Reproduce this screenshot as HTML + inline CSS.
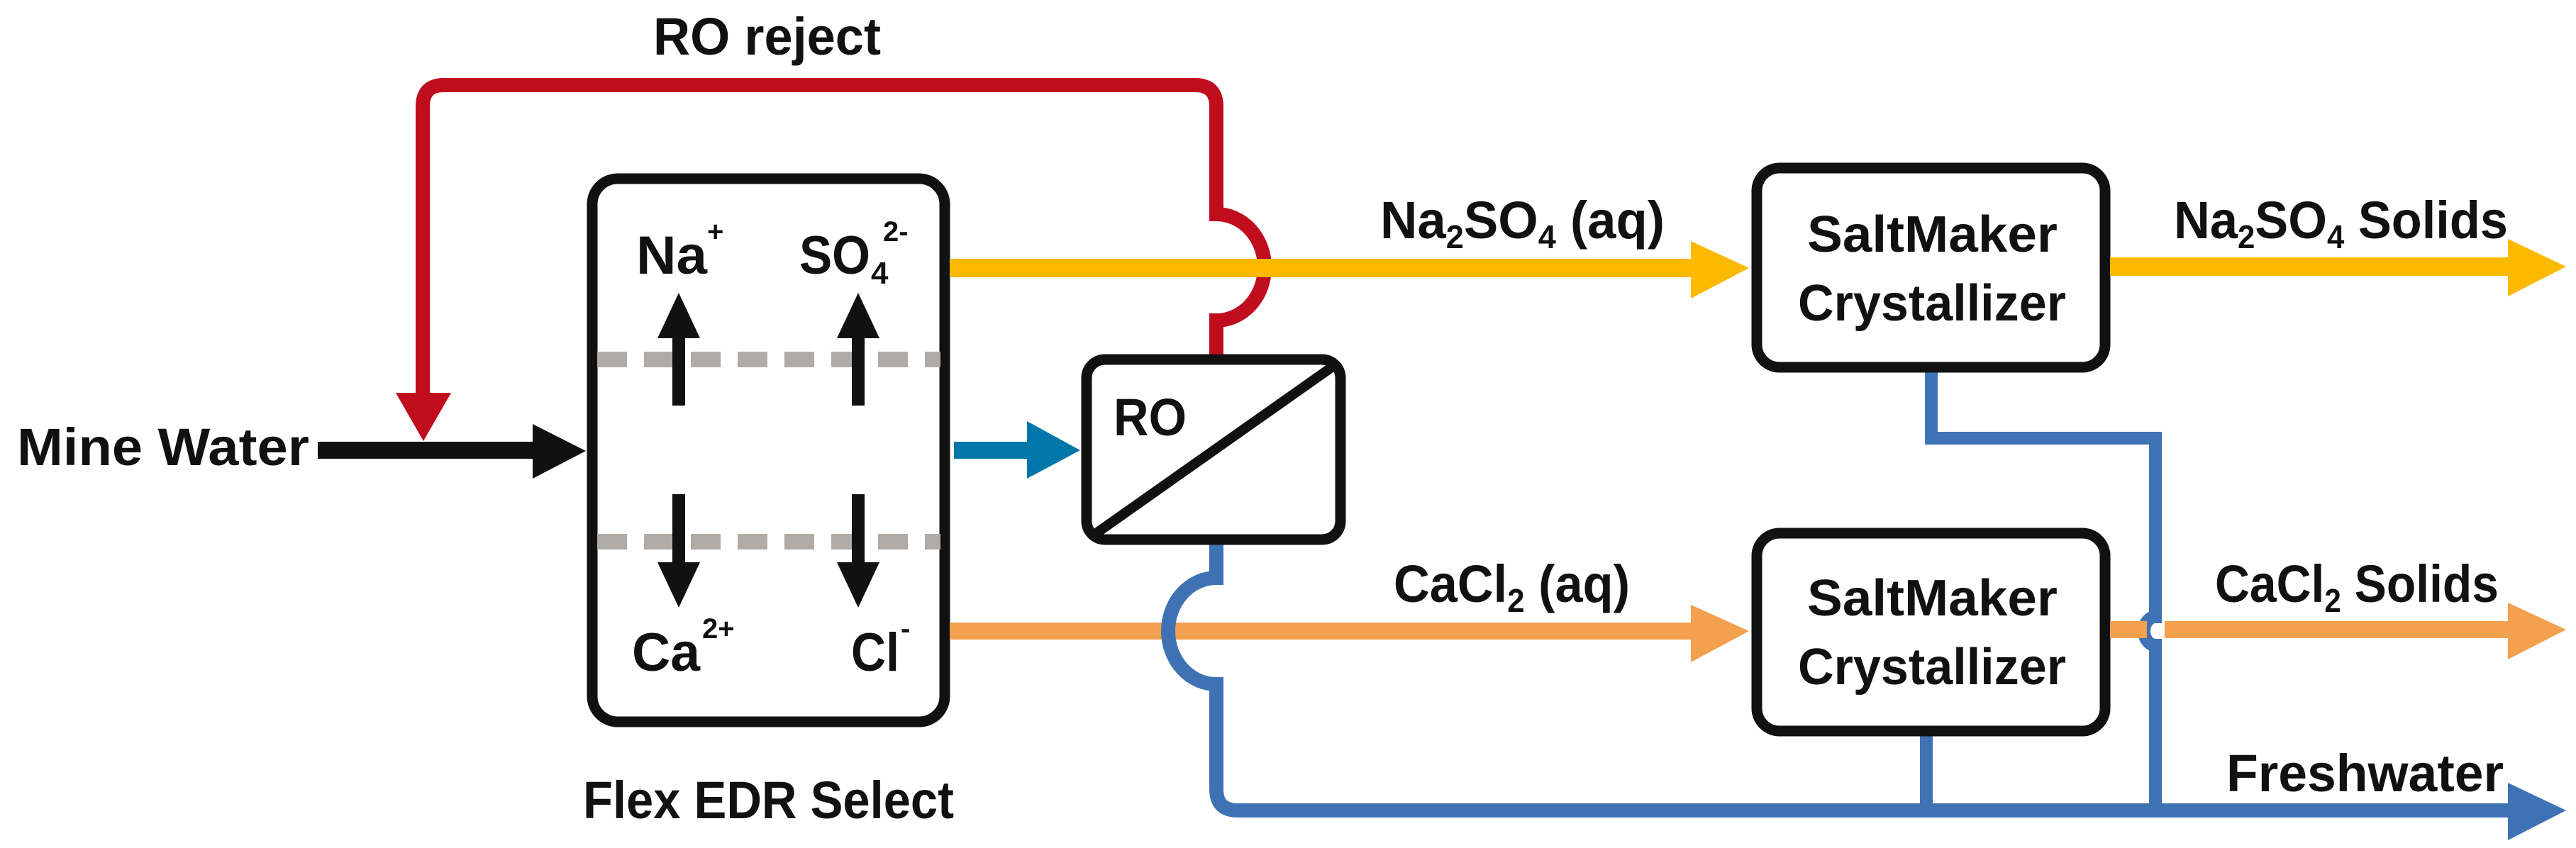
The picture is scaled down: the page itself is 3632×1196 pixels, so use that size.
<!DOCTYPE html>
<html><head><meta charset="utf-8"><style>html,body{margin:0;padding:0;background:#fff}svg{display:block}text{font-family:"Liberation Sans",sans-serif;font-weight:bold;fill:#111}</style></head>
<body>
<svg width="3632" height="1196" viewBox="0 0 3632 1196" xmlns="http://www.w3.org/2000/svg">
<path d="M1715,500 L1715,452 A68,75 0 0 0 1715,302 L1715,150 Q1715,120 1685,120 L626,120 Q596,120 596,150 L596,560" fill="none" stroke="#c00d1e" stroke-width="20"/>
<polygon points="558,554 636,554 597,622" fill="#c00d1e"/>
<text x="921" y="77" font-size="74" textLength="321" lengthAdjust="spacingAndGlyphs">RO reject</text>

<text x="24" y="656" font-size="74" textLength="412" lengthAdjust="spacingAndGlyphs">Mine Water</text>
<rect x="448" y="623" width="305" height="24" fill="#111"/>
<polygon points="751,598 826,636 751,675" fill="#111"/>

<rect x="835" y="252" width="497" height="766" rx="36" fill="#fff" stroke="#111" stroke-width="15"/>
<line x1="842" y1="507" x2="1326" y2="507" stroke="#b0aca5" stroke-width="22" stroke-dasharray="42,24"/>
<line x1="842" y1="764" x2="1326" y2="764" stroke="#b0aca5" stroke-width="22" stroke-dasharray="42,24"/>
<g fill="#111">
<rect x="948" y="470" width="18" height="102"/><polygon points="927,477 987,477 957,413"/>
<rect x="1201" y="470" width="18" height="102"/><polygon points="1180,477 1240,477 1210,413"/>
<rect x="948" y="697" width="18" height="102"/><polygon points="927,793 987,793 957,857"/>
<rect x="1201" y="697" width="18" height="102"/><polygon points="1180,793 1240,793 1210,857"/>
</g>
<text x="897" y="386" font-size="76" textLength="100" lengthAdjust="spacingAndGlyphs">Na</text><text x="997" y="340" font-size="40">+</text>
<text x="1127" y="386" font-size="76" textLength="100" lengthAdjust="spacingAndGlyphs">SO</text><text x="1228" y="400" font-size="44">4</text><text x="1245" y="340" font-size="40">2-</text>
<text x="891" y="946" font-size="76" textLength="96" lengthAdjust="spacingAndGlyphs">Ca</text><text x="990" y="900" font-size="40">2+</text>
<text x="1200" y="946" font-size="76" textLength="68" lengthAdjust="spacingAndGlyphs">Cl</text><text x="1270" y="900" font-size="40">-</text>
<text x="822" y="1154" font-size="74" textLength="523" lengthAdjust="spacingAndGlyphs">Flex EDR Select</text>

<line x1="1339" y1="378" x2="2390" y2="378" stroke="#fbb900" stroke-width="26"/>
<polygon points="2384,340 2466,378 2384,421" fill="#fbb900"/>
<text x="1946" y="336" font-size="74" textLength="401" lengthAdjust="spacingAndGlyphs">Na<tspan font-size="46" dy="14">2</tspan><tspan dy="-14">SO</tspan><tspan font-size="46" dy="14">4</tspan><tspan dy="-14"> (aq)</tspan></text>

<line x1="1339" y1="890" x2="2390" y2="890" stroke="#f3a04f" stroke-width="24"/>
<polygon points="2384,853 2466,890 2384,934" fill="#f3a04f"/>
<text x="1965" y="849" font-size="74" textLength="333" lengthAdjust="spacingAndGlyphs">CaCl<tspan font-size="46" dy="14">2</tspan><tspan dy="-14"> (aq)</tspan></text>

<rect x="1345" y="623" width="106" height="24" fill="#0077a9"/>
<polygon points="1448,594 1523,635 1448,675" fill="#0077a9"/>

<path d="M1715,768 L1715,815 A68,75 0 0 0 1715,965 L1715,1113 Q1715,1143 1745,1143 L3545,1143" fill="none" stroke="#3f72b5" stroke-width="20"/>
<polygon points="3536,1104 3618,1143 3536,1185" fill="#3f72b5"/>
<text x="3139" y="1116" font-size="74" textLength="391" lengthAdjust="spacingAndGlyphs">Freshwater</text>

<rect x="1532" y="507" width="358" height="254" rx="26" fill="#fff" stroke="#111" stroke-width="15"/>
<line x1="1540" y1="756" x2="1886" y2="512" stroke="#111" stroke-width="14"/>
<text x="1570" y="614" font-size="74" textLength="103" lengthAdjust="spacingAndGlyphs">RO</text>

<path d="M2723,525 L2723,618 L3039,618 L3039,870 A16,20 0 0 0 3039,910 L3039,1143" fill="none" stroke="#3f72b5" stroke-width="18"/>
<rect x="2477" y="237" width="491" height="281" rx="32" fill="#fff" stroke="#111" stroke-width="15"/>
<text x="2548" y="355" font-size="72" textLength="353" lengthAdjust="spacingAndGlyphs">SaltMaker</text>
<text x="2535" y="452" font-size="72" textLength="378" lengthAdjust="spacingAndGlyphs">Crystallizer</text>
<line x1="2975" y1="376" x2="3545" y2="376" stroke="#fbb900" stroke-width="26"/>
<polygon points="3536,337 3618,376 3536,418" fill="#fbb900"/>
<text x="3065" y="336" font-size="74" textLength="471" lengthAdjust="spacingAndGlyphs">Na<tspan font-size="46" dy="14">2</tspan><tspan dy="-14">SO</tspan><tspan font-size="46" dy="14">4</tspan><tspan dy="-14"> Solids</tspan></text>

<line x1="2716" y1="1030" x2="2716" y2="1143" stroke="#3f72b5" stroke-width="18"/>
<rect x="2477" y="752" width="491" height="279" rx="32" fill="#fff" stroke="#111" stroke-width="15"/>
<text x="2548" y="868" font-size="72" textLength="353" lengthAdjust="spacingAndGlyphs">SaltMaker</text>
<text x="2535" y="965" font-size="72" textLength="378" lengthAdjust="spacingAndGlyphs">Crystallizer</text>
<line x1="2975" y1="888" x2="3027" y2="888" stroke="#f3a04f" stroke-width="24"/>
<line x1="3052" y1="888" x2="3545" y2="888" stroke="#f3a04f" stroke-width="24"/>
<polygon points="3536,850 3618,888 3536,930" fill="#f3a04f"/>
<text x="3123" y="849" font-size="74" textLength="400" lengthAdjust="spacingAndGlyphs">CaCl<tspan font-size="46" dy="14">2</tspan><tspan dy="-14"> Solids</tspan></text>
</svg>
</body></html>
